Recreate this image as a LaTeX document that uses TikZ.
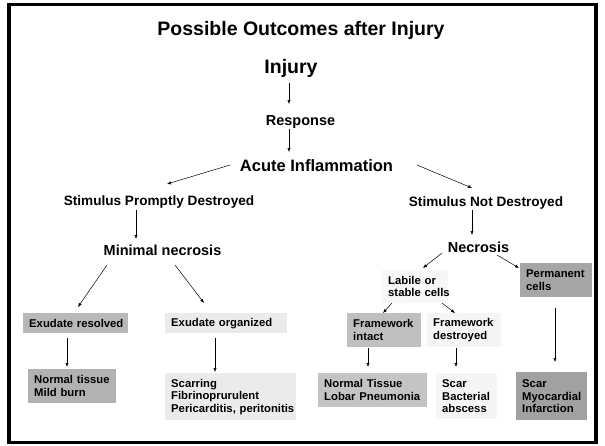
\documentclass[tikz,border=0pt]{standalone}
\usepackage{fontspec}
\setmainfont{Liberation Sans}
\usetikzlibrary{calc,arrows.meta}

\begin{document}
\begin{tikzpicture}[x=1pt, y=-1pt,
    lbl/.style={anchor=base, inner sep=0pt, font=\bfseries\fontsize{#1}{#1}\selectfont},
    box/.style={anchor=north west, inner xsep=6pt, inner ysep=0pt, align=left,
                font=\bfseries\fontsize{11.3}{12.5}\selectfont},
    arr/.style={-{Latex[length=4pt,width=3.2pt]}, line width=0.5pt}]
    \useasboundingbox (0,0) rectangle (605,445);
    \draw[line width=3.3pt] (9,4.3) rectangle (596,442.5);
    % headings
    \node[lbl=19.5] (title) at (301,35) {Possible Outcomes after Injury};
    \node[lbl=19.5] (inj) at (291,73) {Injury};
    \node[lbl=14.5] (resp) at (300.5,125) {Response};
    \node[lbl=16.5] (acute) at (316.5,171) {Acute Inflammation};
    \node[lbl=13.6] (spd) at (159,205) {Stimulus Promptly Destroyed};
    \node[lbl=13.6] (snd) at (486,206) {Stimulus Not Destroyed};
    \node[lbl=14.5] (mn) at (162.5,255) {Minimal necrosis};
    \node[lbl=14.5] (nec) at (478.5,252) {Necrosis};
    % boxes
    \node[box, fill=black!3, text width=54pt, minimum height=33pt] (labile) at (382,270) {Labile or\\\mbox{stable cells}};
    \node[box, fill=black!35, text width=60pt, minimum height=34pt] (perm) at (520,263) {\mbox{Permanent}\\cells};
    \node[box, fill=black!25, text width=62pt, minimum height=34pt] (fi) at (347,313) {\mbox{Framework}\\intact};
    \node[box, fill=black!4, text width=62pt, minimum height=34pt] (fd) at (427,313) {\mbox{Framework}\\destroyed};
    \node[box, fill=black!23, text width=97pt, minimum height=34pt] (ntlp) at (318,373) {Normal Tissue\\\mbox{Lobar Pneumonia}};
    \node[box, fill=black!4, text width=49pt, minimum height=46pt] (scar) at (436,373) {Scar\\\mbox{Bacterial}\\abscess};
    \node[box, fill=black!37, text width=59pt, minimum height=48pt] (scarmi) at (516,372) {Scar\\\mbox{Myocardial}\\\mbox{Infarction}};
    \node[box, fill=black!28, text width=93pt, minimum height=20pt] (exres) at (23,313) {\mbox{Exudate resolved}};
    \node[box, fill=black!8, text width=110pt, minimum height=20pt] (exorg) at (165,313) {\mbox{Exudate organized}};
    \node[box, fill=black!30, text width=76pt, minimum height=34pt] (ntmb) at (28,369) {\mbox{Normal tissue}\\Mild burn};
    \node[box, fill=black!8, text width=119pt, minimum height=47pt] (scarring) at (165,373) {Scarring\\\mbox{Fibrinoprurulent}\\\mbox{Pericarditis, peritonitis}};
    % arrows
    \draw[arr] ($(inj.base)+(-2,10)$) -- ($(resp.base)+(-11.5,-21)$);
    \draw[arr] ($(resp.base)+(-11.5,4)$) -- ($(acute.base)+(-27.5,-19)$);
    \draw[arr] ($(acute.base)+(-86.5,-6)$) -- ($(spd.base)+(8,-21)$);
    \draw[arr] ($(acute.base)+(100.5,-6)$) -- ($(snd.base)+(-14,-18)$);
    \draw[arr] ($(spd.base)+(-23,5)$) -- ($(mn.base)+(-26.5,-16)$);
    \draw[arr] ($(snd.base)+(-14,4)$) -- ($(nec.base)+(-6.5,-17)$);
    \draw[arr] ($(mn.base)+(-55.5,10)$) -- ($(exres.north west)+(55,-6)$);
    \draw[arr] ($(mn.base)+(12.5,10)$) -- ($(exorg.north west)+(39,-10)$);
    \draw[arr] ($(exres.north west)+(44,25)$) -- ($(ntmb.north west)+(39,-2)$);
    \draw[arr] ($(exorg.north west)+(50,25)$) -- ($(scarring.north west)+(50,-1)$);
    \draw[arr] ($(nec.base)+(-36.5,1)$) -- ($(labile.north west)+(41,-2)$);
    \draw[arr] ($(nec.base)+(18.5,3)$) -- ($(perm.north west)+(-1,5)$);
    \draw[arr] ($(labile.north west)+(10,33)$) -- ($(fi.north west)+(36,0)$);
    \draw[arr] ($(labile.north west)+(60,33)$) -- ($(fd.north west)+(28,0)$);
    \draw[arr] ($(fi.north west)+(21,35)$) -- ($(ntlp.north west)+(50,-6)$);
    \draw[arr] ($(fd.north west)+(29,35)$) -- ($(scar.north west)+(20,-6)$);
    \draw[arr] ($(perm.north west)+(35,45)$) -- ($(scarmi.north west)+(39,-10)$);
\end{tikzpicture}
\end{document}
